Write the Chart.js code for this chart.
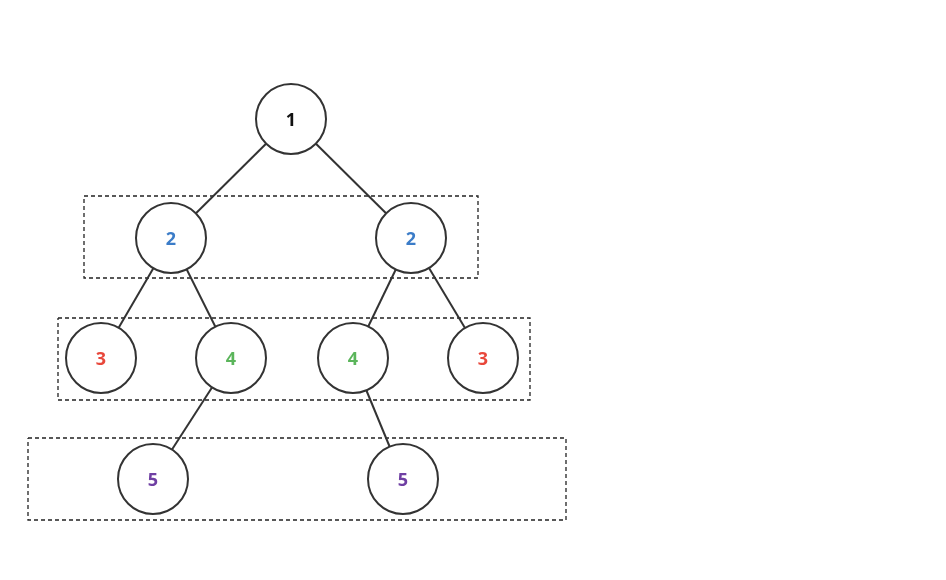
<!DOCTYPE html>
<html>
<head>
<meta charset="utf-8">
<script src="https://cdn.jsdelivr.net/npm/chart.js@4"></script>
<style>
  body { margin: 0; background: #fff; }
</style>
</head>
<body>
<canvas id="tree" width="946" height="580"></canvas>
<script>
// Tree nodes (x, y in diagram units), labels and colours
const nodeLabels = ['1', '2', '2', '3', '4', '4', '3', '5', '5'];
const nodeX = [291, 171, 411, 101, 231, 353, 483, 153, 403];
const nodeY = [119, 238, 238, 358, 358, 358, 358, 479, 479];
const nodeColors = ['#111111', '#3b7cc8', '#3b7cc8', '#e8473b', '#5bb55b', '#5bb55b', '#e8473b', '#6f3fa3', '#6f3fa3'];

// Parent -> child edges (node indices)
const edges = [[0, 1], [0, 2], [1, 3], [1, 4], [2, 5], [2, 6], [4, 7], [5, 8]];

// Dashed level boxes: [left, top, right, bottom]
const boxes = [
    [84, 196, 478, 278],
    [58, 318, 530, 400],
    [28, 438, 566, 520]
];

const datasets = [];

datasets.push({
    type: 'scatter',
    data: nodeX.map((x, i) => ({ x: x, y: nodeY[i] })),
    pointRadius: 35,
    pointHoverRadius: 35,
    pointBackgroundColor: '#ffffff',
    pointBorderColor: '#333333',
    pointBorderWidth: 2,
    clip: false,
    order: 0
});

edges.forEach(e => {
    datasets.push({
        type: 'line',
        data: [{ x: nodeX[e[0]], y: nodeY[e[0]] }, { x: nodeX[e[1]], y: nodeY[e[1]] }],
        borderColor: '#333333',
        borderWidth: 2,
        pointRadius: 0,
        order: 2
    });
});

boxes.forEach(b => {
    datasets.push({
        type: 'line',
        data: [
            { x: b[0], y: b[1] }, { x: b[2], y: b[1] },
            { x: b[2], y: b[3] }, { x: b[0], y: b[3] }, { x: b[0], y: b[1] }
        ],
        borderColor: '#222222',
        borderWidth: 1.3,
        borderDash: [4, 3],
        pointRadius: 0,
        order: 3
    });
});

// Draw the numbers inside the circles
const nodeText = {
    id: 'nodeText',
    afterDatasetsDraw(chart) {
        const ctx = chart.ctx;
        const xs = chart.scales.x, ys = chart.scales.y;
        ctx.save();
        ctx.font = 'bold 18px "Open Sans", sans-serif';
        ctx.textAlign = 'center';
        ctx.textBaseline = 'middle';
        nodeLabels.forEach((t, i) => {
            ctx.fillStyle = nodeColors[i];
            ctx.fillText(t, xs.getPixelForValue(nodeX[i]), ys.getPixelForValue(nodeY[i]) + 2);
        });
        ctx.restore();
    }
};

new Chart(document.getElementById('tree'), {
    type: 'scatter',
    data: { datasets: datasets },
    options: {
        responsive: false,
        animation: false,
        layout: { padding: 0, autoPadding: false },
        plugins: { legend: { display: false }, tooltip: { enabled: false } },
        scales: {
            x: { type: 'linear', min: 0, max: 946, display: false },
            y: { type: 'linear', min: 0, max: 580, reverse: true, display: false }
        }
    },
    plugins: [nodeText]
});
</script>
</body>
</html>
